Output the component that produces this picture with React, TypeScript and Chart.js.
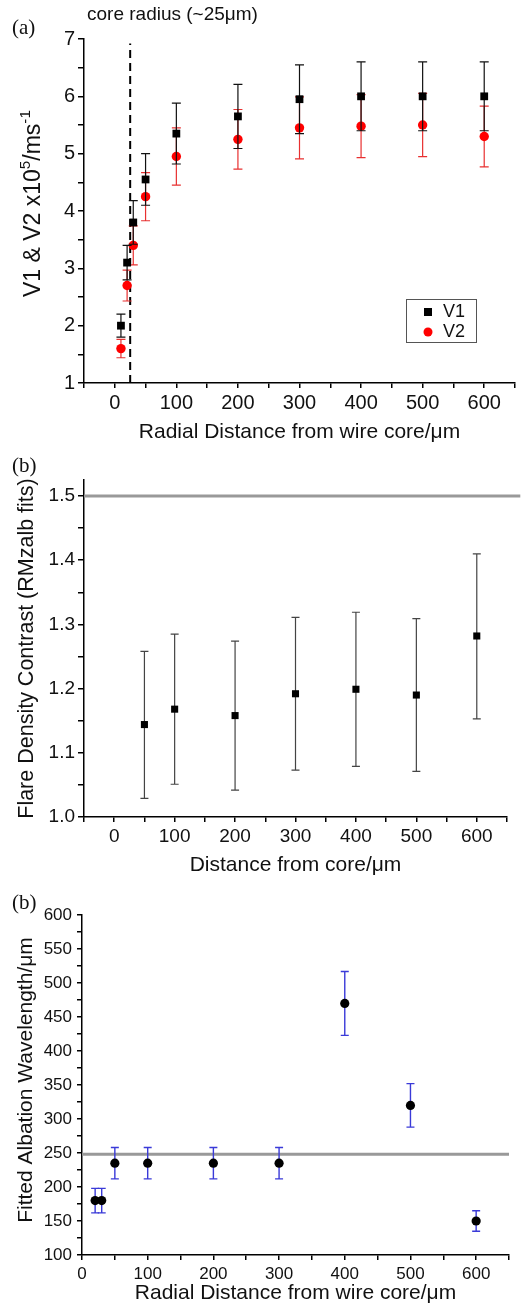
import React, { useEffect, useRef } from "react";
import { Chart, registerables } from "chart.js";

Chart.register(...registerables);

const SANS = '"Liberation Sans", Arial, Helvetica, sans-serif';
const SERIF = '"Liberation Serif", "Times New Roman", serif';

// ---------- Panel (a): V1 & V2 vs radial distance ----------
const radialA = [10, 20, 30, 50, 100, 200, 300, 400, 500, 600];
const v1 = [2.0, 3.1, 3.8, 4.55, 5.35, 5.65, 5.95, 6.0, 6.0, 6.0];
const v1Err = [0.2, 0.3, 0.38, 0.45, 0.53, 0.56, 0.6, 0.6, 0.6, 0.6];
const v2 = [1.6, 2.7, 3.4, 4.25, 4.95, 5.25, 5.45, 5.48, 5.5, 5.3];
const v2Err = [0.16, 0.27, 0.34, 0.42, 0.5, 0.52, 0.54, 0.55, 0.55, 0.53];
const coreRadiusX = [25, 25];
const coreRadiusY = [1, 6.92];
const xTicksA = [-50, 0, 50, 100, 150, 200, 250, 300, 350, 400, 450, 500, 550, 600, 650];
const xLabelsA = [0, 100, 200, 300, 400, 500, 600];
const yTicksA = [1, 1.5, 2, 2.5, 3, 3.5, 4, 4.5, 5, 5.5, 6, 6.5, 7];
const yLabelsA = [1, 2, 3, 4, 5, 6, 7];

// ---------- Panel (b): flare density contrast ----------
const distB = [50, 100, 200, 300, 400, 500, 600];
const contrastB = [1.144, 1.168, 1.158, 1.192, 1.199, 1.19, 1.282];
const contrastLow = [1.029, 1.051, 1.042, 1.073, 1.079, 1.071, 1.153];
const contrastHigh = [1.258, 1.285, 1.274, 1.311, 1.319, 1.309, 1.41];
const refLevelB = 1.5;
const refSpanB = [-50, 672];
const xTicksB = [-50, 0, 50, 100, 150, 200, 250, 300, 350, 400, 450, 500, 550, 600, 650];
const xLabelsB = [0, 100, 200, 300, 400, 500, 600];
const yTicksB = [1.0, 1.05, 1.1, 1.15, 1.2, 1.25, 1.3, 1.35, 1.4, 1.45, 1.5];
const yLabelsB = [1.0, 1.1, 1.2, 1.3, 1.4, 1.5];

// ---------- Panel (b'): fitted ablation wavelength ----------
const distC = [20, 30, 50, 100, 200, 300, 400, 500, 600];
const lambdaC = [180, 180, 235, 235, 235, 235, 470, 320, 150];
const lambdaErr = [18, 18, 23, 23, 23, 23, 47, 32, 15];
const refLevelC = 248;
const refSpanC = [0, 650];
const xTicksC = [0, 50, 100, 150, 200, 250, 300, 350, 400, 450, 500, 550, 600, 650];
const xLabelsC = [0, 100, 200, 300, 400, 500, 600];
const yTicksC = [100, 125, 150, 175, 200, 225, 250, 275, 300, 325, 350, 375, 400, 425, 450, 475, 500, 525, 550, 575, 600];
const yLabelsC = [100, 150, 200, 250, 300, 350, 400, 450, 500, 550, 600];

const errorBarPlugin = {
  id: "errorBars",
  beforeDatasetDraw(chart: any, args: any) {
    const ds: any = chart.data.datasets[args.index];
    const eb = ds.errorBars;
    if (!eb) return;
    const xs = chart.scales.x;
    const ys = chart.scales.y;
    const ctx = chart.ctx;
    ctx.save();
    ctx.strokeStyle = eb.color;
    ctx.lineWidth = eb.width;
    ds.data.forEach((p: any, i: number) => {
      const px = xs.getPixelForValue(p.x);
      const yl = ys.getPixelForValue(eb.low[i]);
      const yh = ys.getPixelForValue(eb.high[i]);
      ctx.beginPath();
      ctx.moveTo(px, yl);
      ctx.lineTo(px, yh);
      ctx.moveTo(px - eb.cap, yl);
      ctx.lineTo(px + eb.cap, yl);
      ctx.moveTo(px - eb.cap, yh);
      ctx.lineTo(px + eb.cap, yh);
      ctx.stroke();
    });
    ctx.restore();
  },
};

type Seg = { t: string; sup?: boolean };

function drawRich(ctx: CanvasRenderingContext2D, segs: Seg[], x: number, y: number, size: number, center: boolean) {
  ctx.save();
  ctx.translate(x, y);
  ctx.rotate(-Math.PI / 2);
  ctx.textBaseline = "alphabetic";
  ctx.textAlign = "left";
  ctx.fillStyle = "#111";
  let total = 0;
  for (const s of segs) {
    ctx.font = `${s.sup ? size * 0.66 : size}px ${SANS}`;
    total += ctx.measureText(s.t).width;
  }
  let cx = center ? -total / 2 : 0;
  for (const s of segs) {
    ctx.font = `${s.sup ? size * 0.66 : size}px ${SANS}`;
    ctx.fillText(s.t, cx, s.sup ? -size * 0.42 : 0);
    cx += ctx.measureText(s.t).width;
  }
  ctx.restore();
}

function drawText(ctx: CanvasRenderingContext2D, t: string, x: number, y: number, font: string, align: CanvasTextAlign = "left") {
  ctx.save();
  ctx.font = font;
  ctx.fillStyle = "#111";
  ctx.textAlign = align;
  ctx.textBaseline = "middle";
  ctx.fillText(t, x, y);
  ctx.restore();
}

function fmtLabel(labels: number[], digits: number) {
  return (v: any) => {
    const n = Number(v);
    return labels.some((l) => Math.abs(l - n) < 1e-9) ? n.toFixed(digits) : "";
  };
}

function makeScales(o: any) {
  return {
    x: {
      type: "linear",
      min: o.xMin,
      max: o.xMax,
      afterBuildTicks: (s: any) => {
        s.ticks = o.xTicks.map((v: number) => ({ value: v }));
      },
      afterFit: (s: any) => {
        s.height = o.xHeight;
      },
      ticks: {
        autoSkip: false,
        maxRotation: 0,
        minRotation: 0,
        padding: o.xPad,
        color: "#111",
        font: { family: SANS, size: o.xTickSize },
        callback: fmtLabel(o.xLabels, 0),
      },
      grid: { display: true, drawOnChartArea: false, drawTicks: true, tickLength: o.xTickLen, color: "#000", lineWidth: 1.5 },
      border: { display: true, color: "#000", width: 1.5 },
      title: {
        display: true,
        text: o.xTitle,
        color: "#111",
        font: { family: SANS, size: 21 },
        padding: { top: 0, bottom: o.xTitlePad },
      },
    },
    y: {
      type: "linear",
      min: o.yMin,
      max: o.yMax,
      afterBuildTicks: (s: any) => {
        s.ticks = o.yTicks.map((v: number) => ({ value: v }));
      },
      afterFit: (s: any) => {
        s.width = o.yWidth;
      },
      ticks: {
        autoSkip: false,
        padding: o.yPad,
        color: "#111",
        font: { family: SANS, size: o.yTickSize },
        callback: fmtLabel(o.yLabels, o.yDigits),
      },
      grid: { display: true, drawOnChartArea: false, drawTicks: true, tickLength: o.yTickLen, color: "#000", lineWidth: 1.5 },
      border: { display: true, color: "#000", width: 1.5 },
    },
  };
}

function pts(xs: number[], ys: number[]) {
  return xs.map((x, i) => ({ x, y: ys[i] }));
}

function configA(): any {
  const decor = {
    id: "decorA",
    afterDraw(chart: any) {
      const ctx = chart.ctx;
      drawText(ctx, "(a)", 12, 28, `21px ${SERIF}`);
      drawText(ctx, "core radius (~25\u03bcm)", 87, 15, `19px ${SANS}`);
      drawRich(
        ctx,
        [{ t: "V1 & V2 x10" }, { t: "5", sup: true }, { t: "/ms" }, { t: "-1", sup: true }],
        40,
        297,
        23,
        false
      );
      // legend
      ctx.save();
      ctx.strokeStyle = "#555";
      ctx.lineWidth = 1;
      ctx.strokeRect(406.5, 299.5, 70, 43);
      ctx.fillStyle = "#000";
      ctx.fillRect(424, 308, 8, 8);
      ctx.fillStyle = "#f00";
      ctx.beginPath();
      ctx.arc(428, 332, 4.5, 0, Math.PI * 2);
      ctx.fill();
      ctx.restore();
      drawText(ctx, "V1", 443, 312, `18px ${SANS}`);
      drawText(ctx, "V2", 443, 332, `18px ${SANS}`);
    },
  };
  return {
    type: "scatter",
    data: {
      datasets: [
        {
          label: "V1",
          data: pts(radialA, v1),
          pointStyle: "rect",
          pointRadius: 5.5,
          backgroundColor: "#000",
          borderColor: "#000",
          borderWidth: 0,
          errorBars: {
            low: v1.map((v, i) => v - v1Err[i]),
            high: v1.map((v, i) => v + v1Err[i]),
            color: "#111",
            width: 1.2,
            cap: 4.5,
          },
        },
        {
          label: "V2",
          data: pts(radialA, v2),
          pointStyle: "circle",
          pointRadius: 4.7,
          backgroundColor: "#f00",
          borderColor: "#f00",
          borderWidth: 0,
          errorBars: {
            low: v2.map((v, i) => v - v2Err[i]),
            high: v2.map((v, i) => v + v2Err[i]),
            color: "#e83030",
            width: 1.2,
            cap: 4.5,
          },
        },
        {
          label: "core radius",
          data: pts(coreRadiusX, coreRadiusY),
          showLine: true,
          pointRadius: 0,
          borderColor: "#000",
          borderWidth: 2,
          borderDash: [8, 5],
        },
      ],
    },
    options: {
      responsive: false,
      animation: false,
      devicePixelRatio: 1,
      layout: { padding: { top: 39, right: 13, left: 0, bottom: 0 } },
      plugins: { legend: { display: false }, tooltip: { enabled: false } },
      scales: makeScales({
        xMin: -50,
        xMax: 650,
        xTicks: xTicksA,
        xLabels: xLabelsA,
        xHeight: 67,
        xPad: 3,
        xTickLen: 5,
        xTickSize: 20,
        xTitle: "Radial Distance from wire core/\u03bcm",
        xTitlePad: 5,
        yMin: 1,
        yMax: 7,
        yTicks: yTicksA,
        yLabels: yLabelsA,
        yDigits: 0,
        yWidth: 84,
        yPad: 3,
        yTickLen: 6,
        yTickSize: 20,
      }),
    },
    plugins: [errorBarPlugin, decor],
  };
}

function configB(): any {
  const decor = {
    id: "decorB",
    afterDraw(chart: any) {
      const ctx = chart.ctx;
      drawText(ctx, "(b)", 12, 16, `21px ${SERIF}`);
      drawRich(ctx, [{ t: "Flare Density Contrast (RMzalb fits)" }], 33, 198.5, 21.5, true);
    },
  };
  return {
    type: "scatter",
    data: {
      datasets: [
        {
          label: "contrast",
          data: pts(distB, contrastB),
          pointStyle: "rect",
          pointRadius: 5,
          backgroundColor: "#000",
          borderColor: "#000",
          borderWidth: 0,
          errorBars: { low: contrastLow, high: contrastHigh, color: "#444", width: 1.2, cap: 4 },
        },
        {
          label: "reference",
          data: pts(refSpanB, [refLevelB, refLevelB]),
          showLine: true,
          pointRadius: 0,
          borderColor: "#999",
          borderWidth: 3,
          clip: false,
        },
      ],
    },
    options: {
      responsive: false,
      animation: false,
      devicePixelRatio: 1,
      layout: { padding: { top: 30, right: 21, left: 0, bottom: 0 } },
      plugins: { legend: { display: false }, tooltip: { enabled: false } },
      scales: makeScales({
        xMin: -50,
        xMax: 650,
        xTicks: xTicksB,
        xLabels: xLabelsB,
        xHeight: 63,
        xPad: 3,
        xTickLen: 5,
        xTickSize: 19,
        xTitle: "Distance from core/\u03bcm",
        xTitlePad: 2,
        yMin: 1.0,
        yMax: 1.525,
        yTicks: yTicksB,
        yLabels: yLabelsB,
        yDigits: 1,
        yWidth: 84,
        yPad: 3,
        yTickLen: 6,
        yTickSize: 19,
      }),
    },
    plugins: [errorBarPlugin, decor],
  };
}

function configC(): any {
  const decor = {
    id: "decorC",
    afterDraw(chart: any) {
      const ctx = chart.ctx;
      drawText(ctx, "(b)", 12, 23, `21px ${SERIF}`);
      drawRich(ctx, [{ t: "Fitted Albation Wavelength/\u03bcm" }], 32, 200, 21, true);
    },
  };
  return {
    type: "scatter",
    data: {
      datasets: [
        {
          label: "wavelength",
          data: pts(distC, lambdaC),
          pointStyle: "circle",
          pointRadius: 4.6,
          backgroundColor: "#000",
          borderColor: "#000",
          borderWidth: 0,
          errorBars: {
            low: lambdaC.map((v, i) => v - lambdaErr[i]),
            high: lambdaC.map((v, i) => v + lambdaErr[i]),
            color: "#3a3ad8",
            width: 1.4,
            cap: 4,
          },
        },
        {
          label: "reference",
          data: pts(refSpanC, [refLevelC, refLevelC]),
          showLine: true,
          pointRadius: 0,
          borderColor: "#999",
          borderWidth: 3,
          clip: false,
        },
      ],
    },
    options: {
      responsive: false,
      animation: false,
      devicePixelRatio: 1,
      layout: { padding: { top: 35, right: 19, left: 0, bottom: 0 } },
      plugins: { legend: { display: false }, tooltip: { enabled: false } },
      scales: makeScales({
        xMin: 0,
        xMax: 650,
        xTicks: xTicksC,
        xLabels: xLabelsC,
        xHeight: 55,
        xPad: 4,
        xTickLen: 5,
        xTickSize: 17,
        xTitle: "Radial Distance from wire core/\u03bcm",
        xTitlePad: 4,
        yMin: 100,
        yMax: 600,
        yTicks: yTicksC,
        yLabels: yLabelsC,
        yDigits: 0,
        yWidth: 82,
        yPad: 5,
        yTickLen: 5,
        yTickSize: 17,
      }),
    },
    plugins: [errorBarPlugin, decor],
  };
}

function Panel({ top, height, make }: { top: number; height: number; make: () => any }) {
  const ref = useRef<HTMLCanvasElement | null>(null);
  useEffect(() => {
    if (!ref.current) return;
    const chart = new Chart(ref.current, make());
    return () => chart.destroy();
  }, [make]);
  return (
    <canvas
      ref={ref}
      width={528}
      height={height}
      style={{ position: "absolute", left: 0, top, width: 528, height }}
    />
  );
}

export default function App() {
  return (
    <div style={{ position: "absolute", left: 0, top: 0, width: 528, height: 1310, background: "#fff" }}>
      <Panel top={0} height={450} make={configA} />
      <Panel top={450} height={430} make={configB} />
      <Panel top={880} height={430} make={configC} />
    </div>
  );
}
